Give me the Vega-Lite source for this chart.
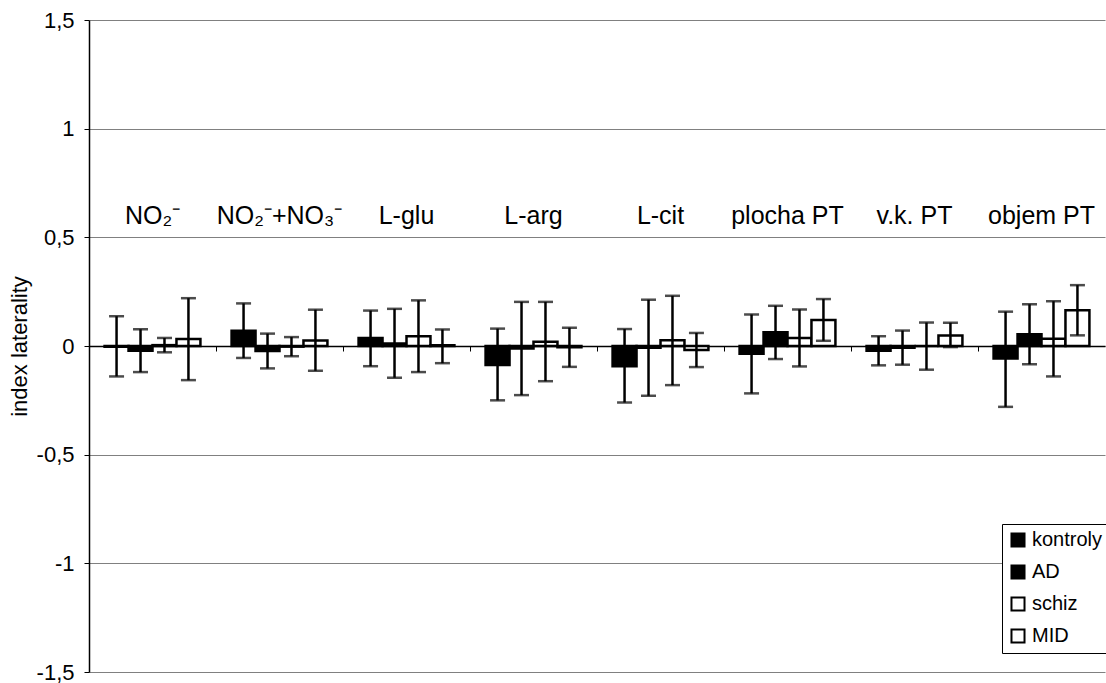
{
  "$schema": "https://vega.github.io/schema/vega-lite/v6.json",
  "width": 1016,
  "height": 652,
  "autosize": "none",
  "padding": {"left": 89, "top": 20, "right": 1, "bottom": 11},
  "background": "white",
  "config": {
    "view": {"stroke": null},
    "font": "Liberation Sans",
    "axis": {"labelColor": "black", "titleColor": "black", "labelFont": "Liberation Sans", "titleFont": "Liberation Sans"}
  },
  "datasets": {
    "bars": [
      {"group": "NO₂⁻", "series": "kontroly", "value": -0.003, "lo": -0.14, "hi": 0.137},
      {"group": "NO₂⁻", "series": "AD", "value": -0.022, "lo": -0.12, "hi": 0.077},
      {"group": "NO₂⁻", "series": "schiz", "value": 0.004, "lo": -0.029, "hi": 0.037},
      {"group": "NO₂⁻", "series": "MID", "value": 0.032, "lo": -0.157, "hi": 0.22},
      {"group": "NO₂⁻+NO₃⁻", "series": "kontroly", "value": 0.07, "lo": -0.055, "hi": 0.196},
      {"group": "NO₂⁻+NO₃⁻", "series": "AD", "value": -0.023, "lo": -0.103, "hi": 0.057},
      {"group": "NO₂⁻+NO₃⁻", "series": "schiz", "value": -0.003, "lo": -0.047, "hi": 0.041},
      {"group": "NO₂⁻+NO₃⁻", "series": "MID", "value": 0.025, "lo": -0.114, "hi": 0.167},
      {"group": "L-glu", "series": "kontroly", "value": 0.037, "lo": -0.093, "hi": 0.163},
      {"group": "L-glu", "series": "AD", "value": 0.012, "lo": -0.146, "hi": 0.171},
      {"group": "L-glu", "series": "schiz", "value": 0.045, "lo": -0.12, "hi": 0.21},
      {"group": "L-glu", "series": "MID", "value": 0.003, "lo": -0.079, "hi": 0.076},
      {"group": "L-arg", "series": "kontroly", "value": -0.087, "lo": -0.25, "hi": 0.08},
      {"group": "L-arg", "series": "AD", "value": -0.011, "lo": -0.226, "hi": 0.203},
      {"group": "L-arg", "series": "schiz", "value": 0.02, "lo": -0.162, "hi": 0.203},
      {"group": "L-arg", "series": "MID", "value": -0.006, "lo": -0.096, "hi": 0.084},
      {"group": "L-cit", "series": "kontroly", "value": -0.093, "lo": -0.26, "hi": 0.078},
      {"group": "L-cit", "series": "AD", "value": -0.008, "lo": -0.229, "hi": 0.213},
      {"group": "L-cit", "series": "schiz", "value": 0.026, "lo": -0.18, "hi": 0.231},
      {"group": "L-cit", "series": "MID", "value": -0.018, "lo": -0.097, "hi": 0.06},
      {"group": "plocha PT", "series": "kontroly", "value": -0.036, "lo": -0.218, "hi": 0.145},
      {"group": "plocha PT", "series": "AD", "value": 0.063, "lo": -0.06, "hi": 0.185},
      {"group": "plocha PT", "series": "schiz", "value": 0.037, "lo": -0.094, "hi": 0.168},
      {"group": "plocha PT", "series": "MID", "value": 0.12, "lo": 0.024, "hi": 0.216},
      {"group": "v.k. PT", "series": "kontroly", "value": -0.022, "lo": -0.089, "hi": 0.045},
      {"group": "v.k. PT", "series": "AD", "value": -0.008, "lo": -0.086, "hi": 0.071},
      {"group": "v.k. PT", "series": "schiz", "value": 0.0, "lo": -0.109, "hi": 0.108},
      {"group": "v.k. PT", "series": "MID", "value": 0.048, "lo": -0.005, "hi": 0.107},
      {"group": "objem PT", "series": "kontroly", "value": -0.058, "lo": -0.28, "hi": 0.158},
      {"group": "objem PT", "series": "AD", "value": 0.054, "lo": -0.084, "hi": 0.192},
      {"group": "objem PT", "series": "schiz", "value": 0.033, "lo": -0.14, "hi": 0.206},
      {"group": "objem PT", "series": "MID", "value": 0.165, "lo": 0.049, "hi": 0.28}
    ],
    "labels": [
      {"group": "NO₂⁻", "label": "NO₂⁻"},
      {"group": "NO₂⁻+NO₃⁻", "label": "NO₂⁻+NO₃⁻"},
      {"group": "L-glu", "label": "L-glu"},
      {"group": "L-arg", "label": "L-arg"},
      {"group": "L-cit", "label": "L-cit"},
      {"group": "plocha PT", "label": "plocha PT"},
      {"group": "v.k. PT", "label": "v.k. PT"},
      {"group": "objem PT", "label": "objem PT"}
    ]
  },
  "data": {"name": "bars"},
  "encoding": {
    "x": {
      "field": "group", "type": "nominal", "sort": null,
      "scale": {"paddingInner": 0, "paddingOuter": 0,
        "domain": ["NO₂⁻", "NO₂⁻+NO₃⁻", "L-glu", "L-arg", "L-cit", "plocha PT", "v.k. PT", "objem PT"]},
      "axis": {"title": null, "labels": false, "offset": -326, "domainColor": "black", "domainWidth": 1.5,
        "tickColor": "black", "tickSize": 5, "tickWidth": 1, "bandPosition": 0, "grid": false}
    }
  },
  "layer": [
    {
      "mark": {"type": "bar", "stroke": "black", "strokeWidth": 2.5},
      "encoding": {
        "xOffset": {"field": "series", "type": "nominal", "sort": ["kontroly", "AD", "schiz", "MID"],
          "scale": {"paddingInner": 0, "paddingOuter": 0.65}},
        "y": {"field": "value", "type": "quantitative",
          "scale": {"domain": [-1.5, 1.5], "nice": false, "zero": false},
          "axis": {"values": [-1.5, -1, -0.5, 0, 0.5, 1, 1.5],
            "labelExpr": "replace(toString(datum.value), '.', ',')",
            "labelFontSize": 22, "labelPadding": 10,
            "title": "index laterality", "titleFontSize": 22, "titleFontWeight": "normal", "titlePadding": 5,
            "domainColor": "black", "domainWidth": 1.5, "tickColor": "black", "tickSize": 5,
            "gridColor": "#808080", "gridWidth": 1}},
        "fill": {"field": "series", "type": "nominal", "sort": ["kontroly", "AD", "schiz", "MID"],
          "scale": {"domain": ["kontroly", "AD", "schiz", "MID"], "range": ["black", "black", "white", "white"]},
          "legend": {"title": null, "orient": "none", "legendX": 913, "legendY": 504,
            "fillColor": "white", "strokeColor": "black", "padding": 6,
            "symbolType": "square", "symbolSize": 170, "symbolStrokeColor": "black", "symbolStrokeWidth": 2,
            "labelFontSize": 20, "labelColor": "black", "labelOffset": 4, "rowPadding": 10}}
      }
    },
    {
      "mark": {"type": "rule", "color": "black", "strokeWidth": 2.5},
      "encoding": {
        "xOffset": {"field": "series", "type": "nominal", "sort": ["kontroly", "AD", "schiz", "MID"]},
        "y": {"field": "lo", "type": "quantitative"},
        "y2": {"field": "hi"}
      }
    },
    {
      "mark": {"type": "tick", "color": "black", "thickness": 2.5, "size": 15, "orient": "horizontal"},
      "encoding": {
        "xOffset": {"field": "series", "type": "nominal", "sort": ["kontroly", "AD", "schiz", "MID"]},
        "y": {"field": "lo", "type": "quantitative"}
      }
    },
    {
      "mark": {"type": "tick", "color": "black", "thickness": 2.5, "size": 15, "orient": "horizontal"},
      "encoding": {
        "xOffset": {"field": "series", "type": "nominal", "sort": ["kontroly", "AD", "schiz", "MID"]},
        "y": {"field": "hi", "type": "quantitative"}
      }
    },
    {
      "data": {"name": "labels"},
      "mark": {"type": "text", "fontSize": 25, "font": "Liberation Sans", "color": "black", "baseline": "middle", "align": "center"},
      "encoding": {
        "y": {"datum": 0.6, "type": "quantitative"},
        "text": {"field": "label"}
      }
    }
  ]
}
